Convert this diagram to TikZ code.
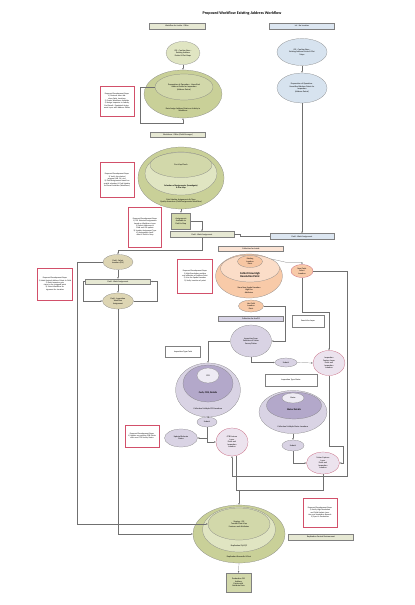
\documentclass[tikz,border=0pt]{standalone}
\usepackage{fontspec}
\setmainfont{Carlito}
\usetikzlibrary{shapes.geometric,arrows.meta}

\definecolor{linegray}{HTML}{707070}
\definecolor{bordergray}{HTML}{808080}
\definecolor{noteRed}{HTML}{D2506A}
\definecolor{hdrGreen}{HTML}{E6E8D3}
\definecolor{hdrBlue}{HTML}{DCE6F1}
\definecolor{hdrPeach}{HTML}{FBE4D5}
\definecolor{hdrLav}{HTML}{DAD6E8}
\definecolor{grnA}{HTML}{C9D098}
\definecolor{grnB}{HTML}{E0E5C2}
\definecolor{grnC}{HTML}{D2D8AA}
\definecolor{bluA}{HTML}{D7E3EF}
\definecolor{khaki}{HTML}{DDD5B3}
\definecolor{pchA}{HTML}{F8CAA8}
\definecolor{pchB}{HTML}{FBDDC8}
\definecolor{pchC}{HTML}{F7C6A2}
\definecolor{lavA}{HTML}{D9D3E4}
\definecolor{lavB}{HTML}{B3A8CA}
\definecolor{lavC}{HTML}{EEEBF4}
\definecolor{pinkA}{HTML}{ECE3EE}
\definecolor{redEdge}{HTML}{C0506B}

\tikzset{
  flow/.style={draw=linegray, line width=0.6pt},
  arr/.style={flow, -{Latex[length=1.7mm,width=1.4mm]}},
  txt/.style={font=\fontsize{6}{7}\selectfont, align=center, inner sep=0pt},
  ell/.style 2 args={ellipse, draw=bordergray, line width=0.6pt, inner sep=0pt, align=center,
    font=\fontsize{6}{7}\selectfont, minimum width=#1mm, minimum height=#2mm},
  bar/.style 2 args={rectangle, draw=bordergray, line width=0.6pt, inner sep=0pt, align=center,
    font=\fontsize{6}{7}\selectfont, minimum width=#1mm, minimum height=#2mm},
  note/.style 2 args={rectangle, draw=noteRed, fill=white, line width=0.9pt, align=center,
    font=\fontsize{5.6}{6.6}\selectfont, inner sep=1mm, text width=#1mm, minimum height=#2mm},
}

\begin{document}
\begin{tikzpicture}[x=1mm, y=-1mm]
  \useasboundingbox[fill=white] (0,0) rectangle (415,605);

  %%%%% TOP %%%%%
  \node[font=\bfseries\fontsize{11.5}{13}\selectfont] (title) at (242,13) {Proposed Workflow Existing Address Workflow};

  \node[bar={56}{6}, fill=hdrGreen] (hdrInside) at (177,26) {Workflow for Inside - Office};
  \node[bar={65}{6}, fill=hdrBlue] (hdrNoLoc) at (302,26) {Inf - No Location};

  \node[ell={34}{23}, fill=grnB] (gisBaseL) at (183,53) {GIS - Confirm Base -\\ Existing Address\\ Points \& Plat Maps};
  \node[ell={50}{27}, fill=bluA] (gisBaseR) at (302,52) {GIS - Confirm Base -\\ Existing Address Points \& Plat\\ Maps};
  \node[ell={50}{30}, fill=bluA] (prepR) at (302,88) {Preparation of Operation -\\ Unverified Address Points for\\ Inspection\\ (Address Points)};
  \draw[arr] (gisBaseR) -- (prepR);

  \node[ell={78}{48}, fill=grnA] (assignOut) at (183,94) {};
  \node[ell={58}{26}, fill=grnC] (prepL) at (184,87) {Preparation of Operation - Unverified\\ Address Points for Inspection\\ (Address Points)};
  \node[txt] (assignTxt) at (183,110) {Data Assign Address Points or Activity in\\ Workforce};
  \draw[arr] (gisBaseL) -- (assignOut);
  \draw[arr] (prepL.west) -- (140,87) -- (140,123) -| (assignOut.south);

  \node[note={32}{30}] (noteAssign) at (117,101) {Proposed Development Steps:\\ 1) Geotech select Address Point Locations\\ 2) Create Workforce Activities\\ 3) Assign Inspector to Activity\\ End Result: Populated Assignment Layer with Address Points};

  %%%%% FIELD MANAGER %%%%%
  \node[bar={55}{5}, fill=hdrGreen] (hdrManager) at (178,135) {Workforce - Office (Field Manager)};

  \node[ell={86}{62}, fill=grnA] (closeOut) at (181,178) {};
  \node[ell={72}{43}, fill=grnB] (selectMid) at (181,173.5) {};
  \node[ell={62}{25}, fill=grnC] (premap) at (181,165) {Pre-Map Check};
  \node[txt, font=\bfseries\fontsize{6}{7}\selectfont] (selectTxt) at (181,187) {Selection of Assignments (Investigate)\\ \& Pre-Map};
  \node[txt] (closeTxt) at (181,201) {Field Update Assignments \& Close\\ Quality Assurance (Field Assignments Workflow)};

  \node[note={32}{35}] (noteManager) at (117,180) {Proposed Development Steps:\\ 1) Verify the desired program (AR, FH, etc.)\\ 2) Field Assignments based on spatial selection \& Field Update to Closed Activities (Workforce)};

  \node[bar={19}{16}, fill=grnC] (available) at (181,221) {Assignments\\ Available to\\ Field in Map};
  \draw[arr] (closeOut.south) -- (available.north);

  \node[note={31}{40}] (noteAvail) at (145,227) {Proposed Development Steps:\\ 1) GIS Selected Assignments based on Workforce Layer\\ 2) Select Addresses in Field and GIS update\\ 3) Update Assignment Type\\ 4) Assignments Available to Field in Map};

  \node[bar={64}{6}, fill=hdrGreen] (fieldL) at (202,234.5) {Field - Work Assignment};
  \node[bar={64}{6}, fill=hdrBlue] (fieldR) at (302,236.5) {Field - Work Assignment};
  \draw[arr] (available.east) -| (fieldL.north);
  \draw[arr] (prepR.south) -- (fieldR.north);
  \draw[flow] (fieldR.west) -- ++(-30,0) |- (fieldL.east);

  %%%%% FIELD %%%%%
  \node[ell={30}{15}, fill=khaki] (selLoc) at (118,262) {Field - Select\\ Location (FM)};
  \draw[arr] (fieldL.south) -- (202,250) -| (selLoc.north);

  \node[bar={65}{5}, fill=hdrGreen] (fieldL2) at (118,281.5) {Field - Work Assignment};
  \node[ell={31}{16}, fill=khaki] (inspFlow) at (118,301) {Field - Inspection\\ Workflow\\ Assignment};
  \draw[arr] (selLoc.south) -- (fieldL2.north);
  \draw[arr] (fieldL2.south) -- (inspFlow.north);
  \draw[arr] (fieldL2.west) -- (83,281.5) |- (inspFlow.west);
  \draw[arr] (inspFlow.east) -- (157,301) |- (fieldL2.east);

  \node[note={33}{32}] (noteField) at (55,284) {Proposed Development Steps:\\ 1) Label desired Address Points in Field\\ 2) Each Inspector gets close to the assigned point\\ 3) Select Workflow Assignment for Location};
  \node[note={33}{34}] (noteHighRes) at (195,276) {Proposed Development Steps:\\ 1) High Resolution position and elevation of Address Point\\ 2) Use the Spatial Location\\ 3) Verify Location of point};

  %%%%% COLLECTION %%%%%
  \node[bar={65}{5}, fill=hdrPeach] (hdrCollect) at (251,248.5) {Collection for Inside};

  \node[ell={67}{44}, fill=pchA] (storeOut) at (249,276) {};
  \node[ell={59}{27}, fill=pchB] (collectMid) at (250,268.5) {};
  \node[ell={25}{12}, fill=pchC] (existPt) at (250,261.5) {Existing\\ Location\\ Point};
  \node[txt, font=\bfseries\fontsize{8}{9}\selectfont] (collectTxt) at (250,275) {Collect New High\\ Resolution Point};
  \node[txt] (storeTxt) at (249,290) {Store New Spatial Location\\ High Res\\ Attributes};

  \node[ell={22}{13}, fill=pchA, draw=redEdge] (newPt) at (302,271) {New Point\\ Select\\ Location};
  \draw[arr] (collectMid.north east) -- (287,262.5) -| (newPt.north);

  \node[ell={25}{12}, fill=pchA] (usePt) at (251,306) {Use Field\\ Location\\ Point};
  \node[bar={32}{12}, fill=white] (search) at (308,321) {Search for Layer};

  \node[bar={65}{5}, fill=hdrLav] (hdrArc) at (251,318.5) {Collection for ArcGIS};

  \node[ell={41}{32}, fill=lavA] (inspForm) at (251,341) {Inspection Form\\ Selection of Meter\\ Survey/Meter};
  \draw[arr] (usePt.east) -| (285,341) -- (inspForm.east);

  \node[ell={22}{9}, fill=lavA] (submitA) at (286,362.5) {Submit};
  \node[ell={32}{25}, fill=pinkA, draw=redEdge] (inspFeat) at (329,363) {Inspection\\ Feature Layer\\ Point and\\ Inspection\\ Location};
  \draw[arr] (inspForm.south) |- (submitA.west);
  \draw[arr] (submitA.east) -- (inspFeat.west);
  \draw[arr] (newPt.south) -- (302,312) -| (inspFeat.north);

  %%%%% CURB %%%%%
  \node[bar={35}{11}, fill=white] (typeCurb) at (183,351.5) {Inspection Type Curb};

  \node[ell={65}{54}, fill=lavA] (curbOut) at (208,390) {};
  \node[ell={50}{37}, fill=lavB] (curbMid) at (208,383.5) {};
  \node[ell={22}{15}, fill=lavC] (curbIn) at (208,375.5) {CCB};
  \node[txt, font=\bfseries\fontsize{7}{8}\selectfont] (curbTxt) at (208,393) {Curb, CCB, Details};
  \node[txt] (curbMulti) at (208,409) {Collection Multiple CCB Locations};
  \draw[arr] (inspForm.west) -| (curbOut.north);

  \node[ell={20}{10}, fill=lavA] (submitB) at (207,422) {Submit};
  \node[ell={33}{18}, fill=lavA] (status) at (181,438) {Update/Relocate\\ Status};
  \node[ell={32}{28}, fill=pinkA, draw=redEdge] (ccg) at (232,442) {CCB Feature\\ Layer\\ Point and\\ Inspection\\ Location};
  \draw[arr] (curbOut.south) -- (submitB.north);
  \draw[arr] (submitB.south) |- (status.east);
  \draw[arr] (submitB.south) |- (ccg.west);

  \node[note={32}{22}] (noteCurb) at (142,436) {Proposed Development Steps:\\ 1) Update any existing CCB Points with new CCB Survey Status};

  %%%%% METER %%%%%
  \node[bar={52}{12}, fill=white] (typeMeter) at (291,380) {Inspection Type Meter};

  \node[ell={68}{43}, fill=lavA] (meterOut) at (293,412) {};
  \node[ell={55}{27}, fill=lavB] (meterMid) at (294,405.5) {};
  \node[ell={22}{10}, fill=lavC] (meterIn) at (293,398) {Meter};
  \node[txt, font=\bfseries\fontsize{7}{8}\selectfont] (meterTxt) at (294,410) {Meter Details};
  \node[txt] (meterMulti) at (293,427) {Collection Multiple Meter Locations};

  \node[ell={22}{11}, fill=lavA] (submitC) at (293,445.5) {Submit};
  \node[ell={33}{22}, fill=pinkA, draw=redEdge] (meterCap) at (323,463) {Meter Capture\\ Layer\\ Point and\\ Inspection\\ Location};
  \draw[arr] (meterOut.south) -- (submitC.north);
  \draw[arr] (submitC.south) |- (meterCap.west);
  \draw[arr] (inspFeat.south) |- (343,446) |- (meterCap.east);
  \draw[arr] (newPt.east) -| (347,476) -| (ccg.south);

  %%%%% STAGING %%%%%
  \node[ell={92}{58}, fill=grnA] (stageOut) at (239,534) {};
  \node[ell={73}{45}, fill=grnB] (stageMid) at (239,529.5) {};
  \node[ell={62}{32}, fill=grnC] (stageIn) at (239,524) {Staging - GIS\\ Transfer Data Map\\ Features and Attributes};
  \node[txt] (replTxt) at (239,546) {Replication/QA/QC};
  \node[txt] (postTxt) at (239,557) {Replication Reconcile \& Post};

  \draw[arr] (meterCap.south) |- (239,490) -- (stageOut.north);
  \draw[flow] (ccg.-75) |- (239,490);
  \draw[arr] (selLoc.west) -| (77,524) -- (stageIn.west);
  \draw[arr] (inspFlow.south) |- (stageOut.west);

  \node[note={32}{29}] (noteStage) at (320,512.5) {Proposed Development Steps:\\ 1) Verify High Resolution and Field Update Location and Inspection Records\\ 2) Sync to Production};
  \node[bar={65}{6}, fill=hdrGreen] (replEnv) at (321,537) {Replication Control Environment};

  \node[bar={25}{19}, fill=grnC] (prod) at (238.5,582.5) {Production GIS\\ Address\\ Points with\\ Attribute Data};
  \draw[arr] (stageOut.south) -- (prod.north);
\end{tikzpicture}
\end{document}
